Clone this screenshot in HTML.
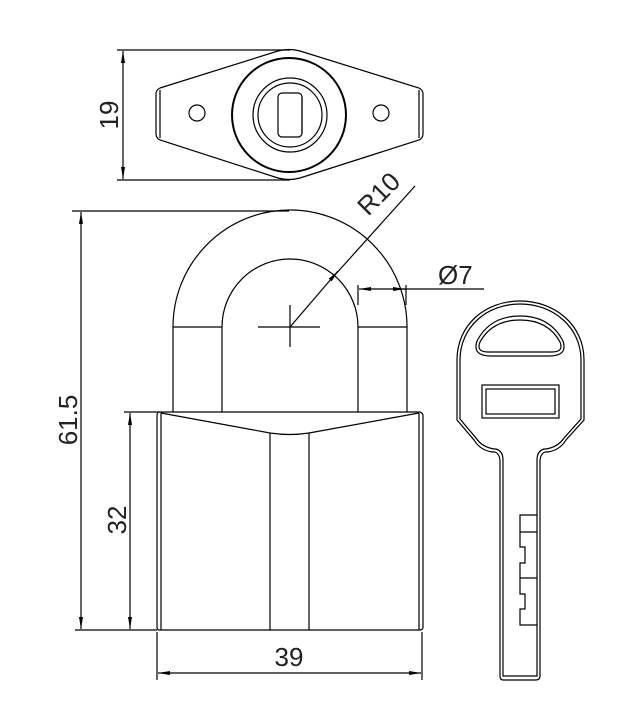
<!DOCTYPE html>
<html><head><style>html,body{margin:0;padding:0;background:#fff}svg{display:block}</style></head><body>
<svg width="634" height="714" viewBox="0 0 634 714" xmlns="http://www.w3.org/2000/svg">
<defs>
<marker id="a" viewBox="0 0 12 4" refX="12" refY="2" markerWidth="12" markerHeight="4" orient="auto" markerUnits="userSpaceOnUse"><path d="M0,0L12,2L0,4z" fill="#000"/></marker>
</defs>
<g fill="none" stroke="#000" stroke-width="1.2">
<line x1="117" y1="50" x2="290" y2="50"/>
<line x1="117" y1="180" x2="290" y2="180"/>
<line x1="123" y1="90" x2="123" y2="51" marker-end="url(#a)"/>
<line x1="123" y1="140" x2="123" y2="179" marker-end="url(#a)"/>
<line x1="123" y1="90" x2="123" y2="140"/>
<path d="M160,88 L278,51 Q289,48 300,51 L419,88 Q423,90 423,94 L423,134 Q423,138 419,140 L300,178 Q289,181 278,178 L160,140 Q156,138 156,134 L156,94 Q156,90 160,88Z"/>
<line x1="160" y1="90" x2="160" y2="138"/>
<line x1="419" y1="90" x2="419" y2="138"/>
<circle cx="289" cy="115" r="57" stroke-width="2"/>
<circle cx="290" cy="115" r="37"/>
<circle cx="290" cy="115" r="32"/>
<rect x="278" y="93" width="24" height="44" rx="4"/>
<line x1="302" y1="97" x2="302" y2="133"/>
<circle cx="197" cy="113" r="8"/>
<circle cx="381" cy="113" r="8"/>
<path d="M173,327 A117,117 0 0 1 407,327 L407,412"/>
<line x1="173" y1="327" x2="173" y2="412"/>
<path d="M222,412 L222,327 A68,68 0 0 1 358,327 L358,412"/>
<line x1="173" y1="327" x2="222" y2="327"/>
<line x1="358" y1="327" x2="407" y2="327"/>
<line x1="258" y1="327" x2="320" y2="327"/>
<line x1="290" y1="305" x2="290" y2="347"/>
<line x1="290" y1="327" x2="338" y2="271" marker-end="url(#a)"/>
<line x1="334" y1="276" x2="415" y2="186"/>
<line x1="358" y1="285" x2="358" y2="305"/>
<line x1="406" y1="285" x2="406" y2="305"/>
<line x1="370" y1="289" x2="359" y2="289" marker-end="url(#a)"/>
<line x1="394" y1="289" x2="405" y2="289" marker-end="url(#a)"/>
<line x1="370" y1="289" x2="484" y2="289"/>
<path d="M159,412 L420,412 Q423,413 423,416 L423,627 Q423,630 420,630 L159,630 Q157,630 157,627 L157,416 Q157,412 159,412Z"/>
<line x1="161" y1="413" x2="161" y2="630"/>
<line x1="419" y1="413" x2="419" y2="630"/>
<path d="M161,413 L270,433 Q290,436 309,433 L419,413"/>
<line x1="270" y1="433" x2="270" y2="630"/>
<line x1="309" y1="433" x2="309" y2="630"/>
<line x1="72" y1="211" x2="289" y2="211"/>
<line x1="75" y1="630" x2="157" y2="630"/>
<line x1="81" y1="240" x2="81" y2="212" marker-end="url(#a)"/>
<line x1="81" y1="600" x2="81" y2="629" marker-end="url(#a)"/>
<line x1="81" y1="240" x2="81" y2="600"/>
<line x1="124" y1="412" x2="160" y2="412"/>
<line x1="130" y1="440" x2="130" y2="413" marker-end="url(#a)"/>
<line x1="130" y1="600" x2="130" y2="629" marker-end="url(#a)"/>
<line x1="130" y1="440" x2="130" y2="600"/>
<line x1="157" y1="632" x2="157" y2="680"/>
<line x1="422" y1="632" x2="422" y2="680"/>
<line x1="185" y1="673" x2="158" y2="673" marker-end="url(#a)"/>
<line x1="395" y1="673" x2="421" y2="673" marker-end="url(#a)"/>
<line x1="185" y1="673" x2="395" y2="673"/>
<path d="M520,301 C555,301 584,325 584,360 L584,420 L566,440 Q560,450 548,452 L545,452 Q540,454 540,462 L540,676 Q540,680 536,680 L503,680 Q500,680 500,676 L500,462 Q500,454 495,452 L492,452 Q480,450 474,440 L457,420 L457,360 C457,325 485,301 520,301Z"/>
<path d="M520,304 C553,304 581,327 581,360 L581,419 L564,438 Q558,447 546,449 L544,449 Q537,451 537,460 L537,676 L503,676 L503,460 Q503,451 496,449 L494,449 Q482,447 476,438 L460,419 L460,360 C460,327 487,304 520,304Z"/>
<path d="M488,352 Q476,352 480,342 Q492,320 520,320 Q548,320 560,342 Q564,352 552,352Z"/>
<path d="M491,356 Q472,356 477,341 Q490,316 520,316 Q550,316 563,341 Q568,356 549,356Z"/>
<rect x="482" y="385" width="77" height="33"/>
<rect x="486" y="389" width="69" height="25"/>
<path d="M537,515 L520,515 L520,547 L525,547 L525,563 L520,563 L520,594 L525,594 L525,609 L520,609 L520,625 L537,625"/>
<line x1="520" y1="532" x2="537" y2="532"/>
<line x1="520" y1="578" x2="537" y2="578"/>
</g>
<g font-family="'Liberation Sans',sans-serif" font-size="26" fill="#222">
<text transform="translate(118,115) rotate(-90)" text-anchor="middle">19</text>
<text transform="translate(77,420) rotate(-90)" text-anchor="middle">61.5</text>
<text transform="translate(126,520) rotate(-90)" text-anchor="middle">32</text>
<text x="289" y="666" text-anchor="middle">39</text>
<text transform="translate(385,200) rotate(-45)" text-anchor="middle">R10</text>
<text x="438" y="284">Ø7</text>
</g>
</svg>
</body></html>
